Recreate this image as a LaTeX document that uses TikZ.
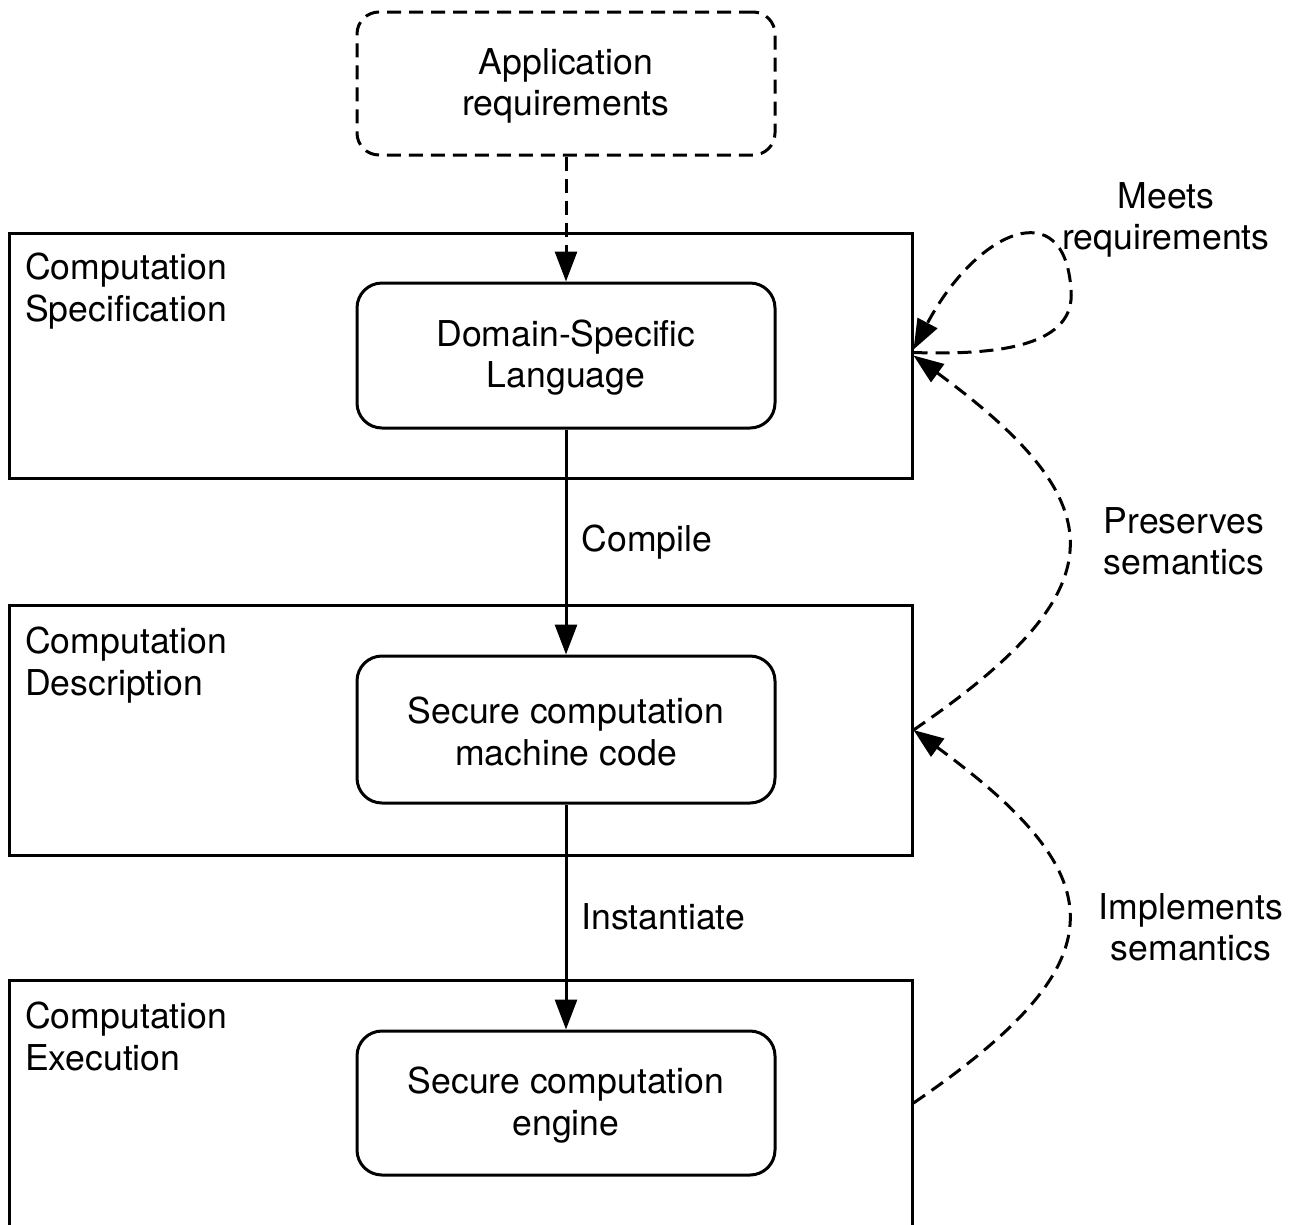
\documentclass[tikz,border=0pt]{standalone}
\usepackage{fontspec}
\setmainfont{TeX Gyre Heros}
\usetikzlibrary{arrows.meta,calc}
\newcommand{\toppad}{\rule{0pt}{31pt}}
\begin{document}
\begin{tikzpicture}[x=1pt,y=-1pt,
  lw/.style={line width=3pt},
  txt/.style={font=\fontsize{35.6}{41.5}\selectfont},
  outerbox/.style={draw, lw, minimum width=903pt, inner sep=0pt},
  inbox/.style={draw, lw, rounded corners=25pt, minimum width=418pt, inner sep=0pt, align=center, txt},
  lbl/.style={txt, inner sep=0pt, align=left},
  rlbl/.style={txt, inner sep=0pt, align=center, anchor=north},
  dashline/.style={lw, dash pattern=on 14pt off 8pt},
  tipped/.style={-{Triangle[length=30pt,width=22pt]}},
]
\clip (0,0) rectangle (1300,1224);

% outer layers
\node[outerbox, minimum height=245pt] (box1) at (460.5,355.5) {};
\node[outerbox, minimum height=250pt] (box2) at (460.5,730) {};
\node[outerbox, minimum height=246pt] (box3) at (460.5,1103) {};

% layer labels
\node[lbl, anchor=north west] (l1) at (25,253) {Computation\\Specification};
\node[lbl, anchor=north west] (l2) at (25,627) {Computation\\Description};
\node[lbl, anchor=north west] (l3) at (25,1002) {Computation\\Execution};

% inner boxes
\node[inbox, dashline, rounded corners=22pt, minimum height=143pt] (app) at (566,83.5) {\toppad Application\\requirements};
\node[inbox, minimum height=145pt] (dsl) at (566,355.5) {\toppad Domain-Specific\\Language};
\node[inbox, minimum height=147pt] (scmc) at (566,729.5) {\toppad Secure computation\\machine code};
\node[inbox, minimum height=144pt] (eng) at (566,1103) {\toppad Secure computation\\engine};

% vertical arrows
\draw[dashline, tipped] (app.south) -- (dsl.north);
\draw[lw, tipped] (dsl.south) -- node[txt, anchor=west, inner sep=0pt, xshift=14pt] (compile) {Compile} (scmc.north);
\draw[lw, tipped] (scmc.south) -- node[txt, anchor=west, inner sep=0pt, xshift=14pt] (inst) {Instantiate} (eng.north);

% side curves
\coordinate (m1) at ($(box1.east)+(0,-3)$);
\coordinate (m2) at ($(box1.east)+(0,-6)$);
\coordinate (mtop) at (1071,290);
\draw[dashline, tipped] (m1) .. controls +(88,3) and +(5,55) .. (mtop)
  .. controls +(-6,-98) and +(63,-119) .. (m2);
\draw[dashline, tipped] (box2.east) .. controls +(205,-140) and +(205,150) .. (box1.east);
\draw[dashline, tipped] (box3.east) .. controls +(205,-140) and +(205,150) .. (box2.east);

% side labels
\node[rlbl] (meets) at (1166,182) {Meets\\requirements};
\node[rlbl] (pres) at (1184,507) {Preserves\\semantics};
\node[rlbl] (impl) at (1191,893) {Implements\\semantics};
\end{tikzpicture}
\end{document}
